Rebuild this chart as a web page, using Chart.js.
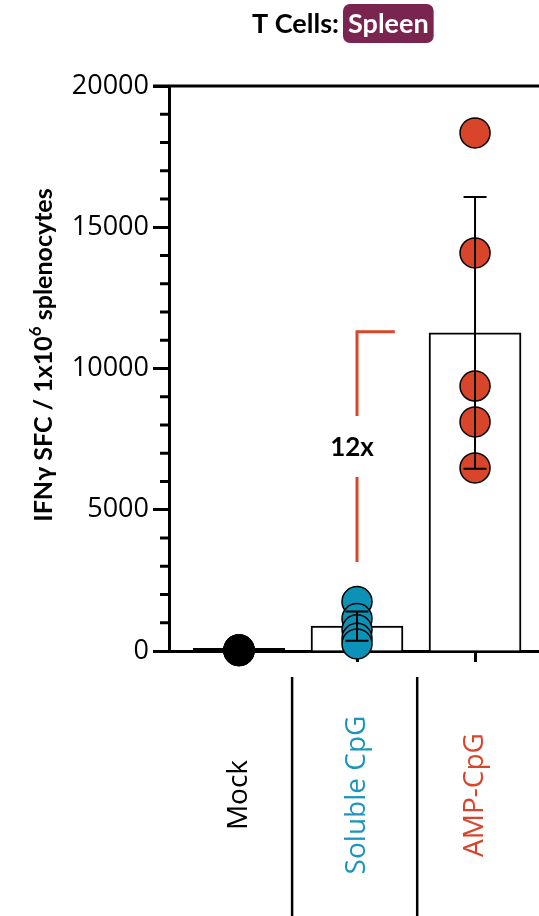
<!DOCTYPE html>
<html>
<head>
<meta charset="utf-8">
<script src="https://cdn.jsdelivr.net/npm/chart.js@4.4.0/dist/chart.umd.min.js"></script>
<style>
  html, body { margin: 0; padding: 0; background: #fff; overflow: hidden; }
</style>
</head>
<body>
<canvas id="canvas" width="539" height="916"></canvas>
<script>
// groups
const categories = ['Mock', 'Soluble CpG', 'AMP-CpG'];
const groupColors = ['#000000', '#0b92b6', '#d8452b'];
const labelColors = ['#000000', '#1b96ba', '#d8452b'];

// bar = mean, error bar = SD
const barMeans = [30, 880, 11260];
const barSD = [0, 520, 4810];

// individual animals
const mockVals = [20, 35, 10, 40, 25];
const solubleVals = [1750, 1150, 750, 450, 250];
const ampVals = [18340, 14090, 9380, 8110, 6480];

const yTickVals = [0, 5000, 10000, 15000, 20000];
const yMinorStep = 1000;

const titleText = 'T Cells:';
const titleTag = 'Spleen';
// y title drawn in 3 parts so the exponent sits up like a real superscript
const yTitleParts = ['IFN\u03b3 SFC / 1x10', '6', ' splenocytes'];
const foldLabel = '12x';
const foldRange = [3150, 11300];

const pointSets = [mockVals, solubleVals, ampVals];

const extras = {
    id: 'extras',
    afterDatasetsDraw(chart) {
        const ctx = chart.ctx;
        const x = chart.scales.x, y = chart.scales.y;
        ctx.save();
        ctx.strokeStyle = '#000';
        ctx.lineWidth = 2;
        for (let i = 0; i < barMeans.length; i++) {
            if (!barSD[i]) continue;
            const cx = x.getPixelForValue(i);
            const top = y.getPixelForValue(barMeans[i] + barSD[i]);
            const bot = y.getPixelForValue(barMeans[i] - barSD[i]);
            ctx.beginPath();
            ctx.moveTo(cx, top); ctx.lineTo(cx, bot);
            ctx.moveTo(cx - 11.5, top); ctx.lineTo(cx + 11.5, top);
            ctx.moveTo(cx - 11.5, bot); ctx.lineTo(cx + 11.5, bot);
            ctx.stroke();
        }
        ctx.restore();
    },
    afterDraw(chart) {
        const ctx = chart.ctx;
        const area = chart.chartArea;
        const x = chart.scales.x, y = chart.scales.y;
        ctx.save();

        // top frame line
        ctx.strokeStyle = '#000';
        ctx.lineWidth = 3;
        ctx.beginPath();
        ctx.moveTo(area.left - 16, area.top);
        ctx.lineTo(area.right, area.top);
        ctx.stroke();

        // minor ticks
        for (let v = 0; v <= 20000; v += yMinorStep) {
            if (yTickVals.includes(v)) continue;
            const py = y.getPixelForValue(v);
            ctx.beginPath();
            ctx.moveTo(area.left - 9, py);
            ctx.lineTo(area.left, py);
            ctx.stroke();
        }

        // mock bar sits on the axis as a heavy line
        ctx.beginPath();
        ctx.moveTo(x.getPixelForValue(0) - 46, area.bottom - 1.5);
        ctx.lineTo(x.getPixelForValue(0) + 46, area.bottom - 1.5);
        ctx.stroke();

        // separators under the axis
        ctx.lineWidth = 2.5;
        [0.45, 1.51].forEach(v => {
            const px = x.getPixelForValue(v);
            ctx.beginPath();
            ctx.moveTo(px, area.bottom + 26);
            ctx.lineTo(px, chart.height);
            ctx.stroke();
        });

        // category labels, rotated
        ctx.font = '28px "Open Sans"';
        ctx.textAlign = 'center';
        ctx.textBaseline = 'middle';
        categories.forEach((c, i) => {
            ctx.save();
            ctx.translate(x.getPixelForValue(i), 795);
            ctx.rotate(-Math.PI / 2);
            ctx.fillStyle = labelColors[i];
            ctx.fillText(c, 0, 0);
            ctx.restore();
        });

        // fold-change bracket
        const bx = x.getPixelForValue(1);
        const yLo = y.getPixelForValue(foldRange[0]);
        const yHi = y.getPixelForValue(foldRange[1]);
        const mid = 448;
        ctx.strokeStyle = groupColors[2];
        ctx.lineWidth = 3;
        ctx.beginPath();
        ctx.moveTo(bx, yLo); ctx.lineTo(bx, mid + 29);
        ctx.moveTo(bx, mid - 32); ctx.lineTo(bx, yHi);
        ctx.lineTo(x.getPixelForValue(1.32), yHi);
        ctx.stroke();
        ctx.fillStyle = '#000';
        ctx.font = 'bold 26px Lato';
        ctx.fillText(foldLabel, bx - 5, mid);

        // y title
        ctx.save();
        ctx.translate(52, 355);
        ctx.rotate(-Math.PI / 2);
        ctx.textAlign = 'left';
        ctx.textBaseline = 'alphabetic';
        const big = 'bold 25px Lato', small = 'bold 17px Lato';
        ctx.font = big;
        const w0 = ctx.measureText(yTitleParts[0]).width;
        const w2 = ctx.measureText(yTitleParts[2]).width;
        ctx.font = small;
        const w1 = ctx.measureText(yTitleParts[1]).width;
        let tx = -(w0 + w1 + w2) / 2;
        ctx.font = big;
        ctx.fillText(yTitleParts[0], tx, 0);
        tx += w0;
        ctx.font = small;
        ctx.fillText(yTitleParts[1], tx, -11);
        tx += w1;
        ctx.font = big;
        ctx.fillText(yTitleParts[2], tx, 0);
        ctx.restore();

        // chart title with tag
        ctx.font = 'bold 27px Lato';
        ctx.textAlign = 'left';
        ctx.textBaseline = 'alphabetic';
        ctx.fillStyle = '#000';
        ctx.fillText(titleText, 252, 33);
        const tw = ctx.measureText(titleTag).width;
        ctx.fillStyle = '#7a2550';
        ctx.beginPath();
        ctx.roundRect(343, 4, tw + 10, 39, 7);
        ctx.fill();
        ctx.fillStyle = '#fff';
        ctx.fillText(titleTag, 348, 33);

        ctx.restore();
    }
};

new Chart(document.getElementById('canvas'), {
    type: 'bar',
    data: {
        datasets: [
            {
                type: 'bar',
                data: barMeans.map((m, i) => ({x: i, y: m})),
                backgroundColor: '#fff',
                borderColor: '#000',
                borderWidth: 2,
                barThickness: 92,
                order: 3
            },
            ...pointSets.map((vals, i) => ({
                type: 'scatter',
                data: vals.map(v => ({x: i, y: v})),
                backgroundColor: groupColors[i],
                borderColor: '#000',
                borderWidth: 1.5,
                pointRadius: 15,
                clip: false,
                order: 1
            }))
        ]
    },
    options: {
        responsive: false,
        animation: false,
        devicePixelRatio: 1,
        layout: {autoPadding: false, padding: {top: 86, left: 0, right: 0, bottom: 0}},
        plugins: {
            legend: {display: false},
            tooltip: {enabled: false}
        },
        scales: {
            x: {
                type: 'linear',
                offset: false,
                min: -0.593,
                max: 2.542,
                afterBuildTicks: (axis) => {
                    axis.ticks = categories.map((c, i) => ({value: i}));
                },
                afterFit: (scale) => { scale.height = 916 - 651; },
                ticks: {callback: () => ''},
                grid: {
                    offset: false,
                    drawOnChartArea: false,
                    tickLength: 11,
                    tickWidth: 3,
                    color: '#000'
                },
                border: {color: '#000', width: 3}
            },
            y: {
                min: 0,
                max: 20000,
                afterBuildTicks: (axis) => {
                    axis.ticks = yTickVals.map(v => ({value: v}));
                },
                afterFit: (scale) => { scale.width = 169; },
                ticks: {
                    color: '#000',
                    padding: 4,
                    font: {family: '"Open Sans"', size: 27},
                    callback: (v) => String(v)
                },
                grid: {
                    drawOnChartArea: false,
                    tickLength: 16,
                    tickWidth: 3,
                    color: '#000'
                },
                border: {color: '#000', width: 3}
            }
        }
    },
    plugins: [extras]
});
</script>
</body>
</html>
